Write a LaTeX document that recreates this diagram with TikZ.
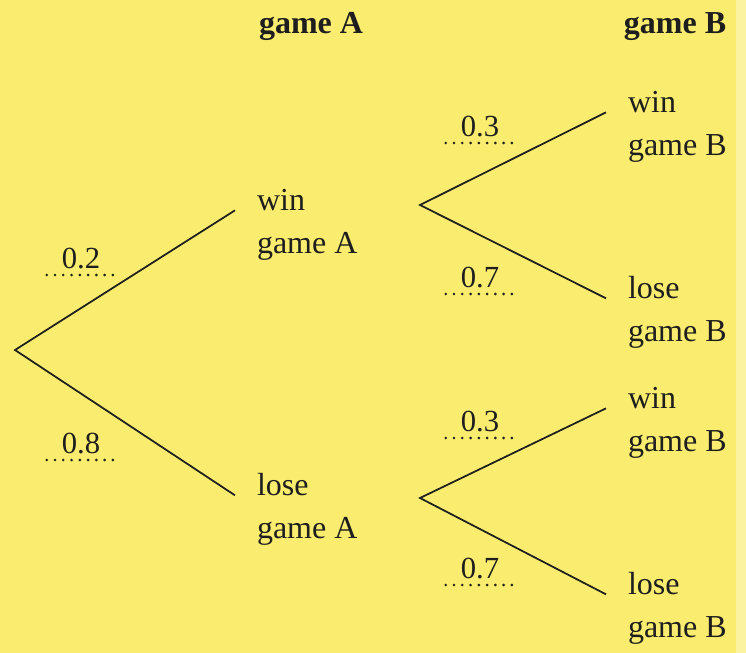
\documentclass[tikz,border=0pt]{standalone}
\usepackage{fontspec}
\setmainfont{Liberation Serif}
\usepackage{tikz}
\usetikzlibrary{positioning}
\definecolor{paper}{RGB}{249,236,110}
\definecolor{edge}{RGB}{251,243,160}
\definecolor{ink}{RGB}{30,30,30}
\tikzset{
  branch/.style={draw=ink,line width=1.3pt},
  outcome/.style={align=left,inner sep=0pt,outer xsep=16.5pt,anchor=base west,
    text=ink,font=\fontsize{24}{32}\selectfont},
  head/.style={inner sep=0pt,anchor=base,text=ink,font=\fontsize{24}{32}\selectfont\bfseries},
  prob/.style={inner xsep=0pt,inner ysep=5pt,text depth=0pt,minimum width=51pt,
    anchor=south,text=ink,font=\fontsize{23}{28}\selectfont,
    append after command={(\tikzlastnode.south west) edge[draw=ink,line width=2.2pt,
      line cap=round,dash pattern=on 0pt off 6.2pt] (\tikzlastnode.south east)}},
  top/.style={yshift=32pt},
}
\begin{document}
\begin{tikzpicture}[x=0.75pt,y=-0.75pt]
  \fill[paper] (0,0) rectangle (746,653);
  \fill[edge] (736,0) rectangle (746,653);
  % headings
  \node[head] (hA) at (311,33) {game A};
  \node[head] (hB) at (675,33) {game B};
  % forks
  \coordinate (r) at (15,350);
  \coordinate (fw) at (420,205);
  \coordinate (fl) at (420,498);
  % outcomes (anchor sits on the second line)
  \node[outcome] (wA) at (235,253) {win\\game A};
  \node[outcome] (lA) at (235,538) {lose\\game A};
  \node[outcome] (wB1) at (606,155) {win\\game B};
  \node[outcome] (lB1) at (606,341) {lose\\game B};
  \node[outcome] (wB2) at (606,451) {win\\game B};
  \node[outcome] (lB2) at (606,637) {lose\\game B};
  % branches
  \draw[branch] ([top]wA.base west) -- (r) -- ([top]lA.base west);
  \draw[branch] ([top]wB1.base west) -- (fw) -- ([top]lB1.base west);
  \draw[branch] ([top]wB2.base west) -- (fl) -- ([top]lB2.base west);
  % probabilities
  \node[prob] (p1) at (81,275) {0.2};
  \node[prob] (p2) at (81,460) {0.8};
  \node[prob] (p3) at (480,143) {0.3};
  \node[prob] (p4) at (480,294) {0.7};
  \node[prob] (p5) at (480,438) {0.3};
  \node[prob] (p6) at (480,585) {0.7};
\end{tikzpicture}
\end{document}
